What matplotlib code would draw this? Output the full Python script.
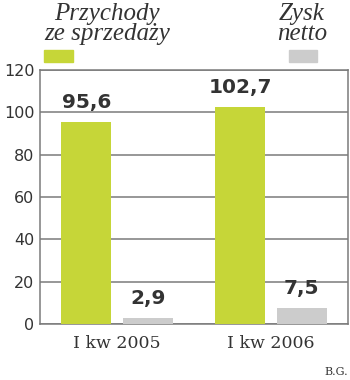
import numpy as np
import matplotlib.pyplot as plt

# Quarterly figures, mln zł
quarters = ['I kw 2005', 'I kw 2006']
revenue = [95.6, 102.7]
net_profit = [2.9, 7.5]
yticks = [0, 20, 40, 60, 80, 100, 120]

green = '#c6d638'
grey = '#cccccc'
line_col = '#7a7a7a'
text_col = '#333333'

fig = plt.figure(figsize=(3.5, 3.8), dpi=100)
ax = fig.add_axes([0.1143, 0.1474, 0.8797, 0.6684])

x = np.arange(len(quarters))
w = 0.324
off = 0.2
b1 = ax.bar(x - off, revenue, w, color=green, zorder=3)
b2 = ax.bar(x + off, net_profit, w, color=grey, zorder=3)

for bars, vals in ((b1, revenue), (b2, net_profit)):
    for bar, v in zip(bars, vals):
        ax.annotate(f'{v:.1f}'.replace('.', ','),
                    (bar.get_x() + bar.get_width() / 2, v),
                    xytext=(0, 7), textcoords='offset points',
                    ha='center', va='bottom', fontsize=14.5,
                    fontweight='bold', color=text_col)

ax.set_xlim(-0.5, 1.5)
ax.set_ylim(0, 120)
ax.set_yticks(yticks)
ax.set_yticklabels([str(t) for t in yticks], fontsize=11.5, color=text_col)
ax.set_xticks(x)
ax.set_xticklabels(quarters, fontsize=12.5, color=text_col,
                   family='DejaVu Serif')
ax.tick_params(axis='y', length=0, pad=4)
ax.tick_params(axis='x', length=0, pad=8)

ax.yaxis.grid(True, color=line_col, lw=1.1, zorder=1)
ax.set_axisbelow(True)
for s in ['left', 'right', 'top', 'bottom']:
    ax.spines[s].set_color(line_col)
    ax.spines[s].set_linewidth(1.1)

# legend drawn above the plot
fig.text(107 / 350, 1 - 3 / 380, 'Przychody\nze sprzedaży', ha='center',
         va='top', fontsize=18, style='italic', family='Liberation Serif',
         color=text_col, linespacing=0.9)
fig.text(302 / 350, 1 - 3 / 380, 'Zysk\nnetto', ha='center', va='top',
         fontsize=18, style='italic', family='Liberation Serif',
         color=text_col, linespacing=0.9)
fig.patches.append(plt.Rectangle((44 / 350, 1 - 62 / 380), 29 / 350, 12 / 380,
                                 transform=fig.transFigure, color=green))
fig.patches.append(plt.Rectangle((289 / 350, 1 - 62 / 380), 28 / 350, 12 / 380,
                                 transform=fig.transFigure, color=grey))

fig.text(348 / 350, 1 - 372 / 380, 'B.G.', ha='right', va='center',
         fontsize=8, family='DejaVu Serif', color=text_col)

fig.savefig('out.png', dpi=100)
